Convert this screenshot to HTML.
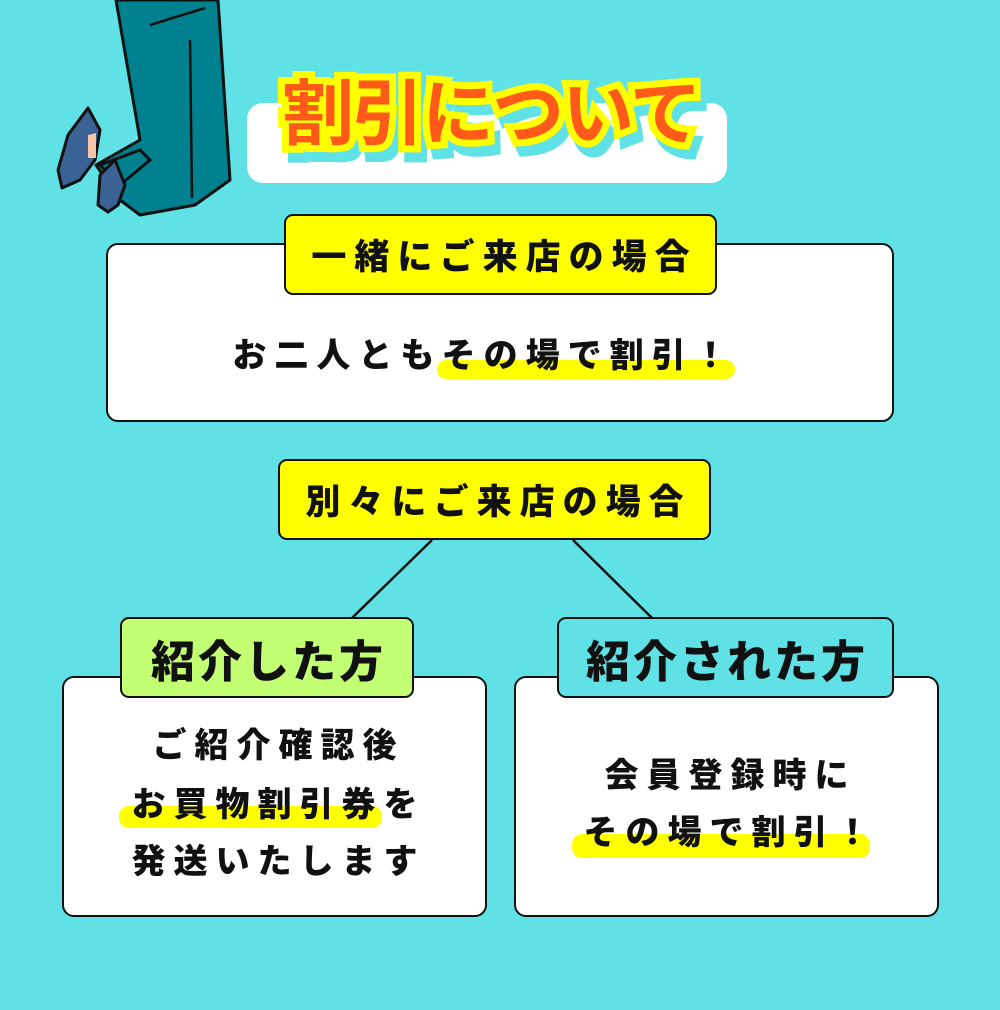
<!DOCTYPE html>
<html><head><meta charset="utf-8"><style>
*{margin:0;padding:0;box-sizing:border-box}
body{width:1000px;height:1010px;background:#5fe1e6;position:relative;overflow:hidden;font-family:"Liberation Sans","Noto Sans CJK JP",sans-serif;font-weight:bold;color:#111}
.a{position:absolute}
.box{position:absolute;background:#fff;border:2.5px solid #111;border-radius:12px}
.lab{position:absolute;border:2.5px solid #111;border-radius:9px;display:flex;align-items:center;justify-content:center;white-space:nowrap}
.t{position:absolute;text-align:center;white-space:nowrap;font-size:34px;letter-spacing:8px;text-indent:8px;line-height:40px;font-weight:900}
.hl{position:absolute;background:#ffff00;border-radius:10px}
</style></head><body>
<svg class="a" style="left:0;top:0" width="260" height="220" viewBox="0 0 260 220">
<path d="M116 0 L218 0 L230 180 L195 205 L140 215 L120 200 L96 165 L140 140 Z" fill="#00818f" stroke="#111" stroke-width="3" stroke-linejoin="round"/>
<path d="M100 165 L140 150 L150 160 L120 185 Z" fill="#00818f" stroke="#111" stroke-width="3"/>
<path d="M88 108 L100 130 L95 160 L80 180 L62 188 L58 170 L68 135 Z" fill="#3a6294" stroke="#111" stroke-width="3" stroke-linejoin="round"/>
<path d="M115 160 L125 185 L118 205 L108 212 L98 205 L100 175 Z" fill="#3a6294" stroke="#111" stroke-width="3" stroke-linejoin="round"/>
<path d="M88 135 L96 133 L96 158 L88 158 Z" fill="#f5c6a5"/>
<line x1="190" y1="40" x2="192" y2="198" stroke="#111" stroke-width="2.5"/>
<line x1="150" y1="25" x2="205" y2="8" stroke="#111" stroke-width="2.5"/>
</svg>
<div class="a" style="left:247px;top:103px;width:480px;height:80px;background:#fff;border-radius:16px"></div>
<div class="a" style="left:276px;top:70px;width:430px;text-align:center;font-size:72px;line-height:90px;letter-spacing:-2px;color:#5fe1e6;-webkit-text-stroke:14px #5fe1e6;transform:translate(6px,10px)">割引について</div>
<div class="a" style="left:276px;top:70px;width:430px;text-align:center;font-size:72px;line-height:90px;letter-spacing:-2px;color:#ffff00;-webkit-text-stroke:14px #ffff00">割引について</div>
<div class="a" style="left:276px;top:70px;width:430px;text-align:center;font-size:72px;line-height:90px;letter-spacing:-2px;color:#ff5a1a">割引について</div>

<div class="box" style="left:106px;top:243px;width:788px;height:179px"></div>
<div class="lab" style="left:284px;top:214px;width:433px;height:81px;background:#ffff00;font-size:35px;letter-spacing:8px;text-indent:8px;font-weight:900">一緒にご来店の場合</div>
<div class="hl" style="left:437px;top:360px;width:298px;height:19px"></div>
<div class="t" style="left:80px;top:336px;width:800px">お二人ともその場で割引！</div>

<svg class="a" style="left:0;top:0" width="1000" height="1010"><line x1="432" y1="540" x2="352" y2="618" stroke="#111" stroke-width="2.5"/><line x1="573" y1="540" x2="652" y2="618" stroke="#111" stroke-width="2.5"/></svg>
<div class="lab" style="left:278px;top:459px;width:433px;height:81px;background:#ffff00;font-size:35px;letter-spacing:8px;text-indent:8px;font-weight:900">別々にご来店の場合</div>

<div class="box" style="left:62px;top:676px;width:425px;height:241px"></div>
<div class="lab" style="left:120px;top:617px;width:294px;height:81px;background:#c3ff73;font-size:44px;letter-spacing:3px;text-indent:3px;font-weight:900">紹介した方</div>
<div class="hl" style="left:119px;top:806px;width:263px;height:22px"></div>
<div class="t" style="left:62px;top:726px;width:425px">ご紹介確認後</div>
<div class="t" style="left:62px;top:785px;width:425px">お買物割引券を</div>
<div class="t" style="left:62px;top:842px;width:425px">発送いたします</div>

<div class="box" style="left:514px;top:676px;width:425px;height:241px"></div>
<div class="lab" style="left:557px;top:617px;width:337px;height:81px;background:#5fe1e6;font-size:44px;letter-spacing:3px;text-indent:3px;font-weight:900">紹介された方</div>
<div class="hl" style="left:572px;top:834px;width:298px;height:24px"></div>
<div class="t" style="left:514px;top:756px;width:425px">会員登録時に</div>
<div class="t" style="left:514px;top:813px;width:425px">その場で割引！</div>
</body></html>
